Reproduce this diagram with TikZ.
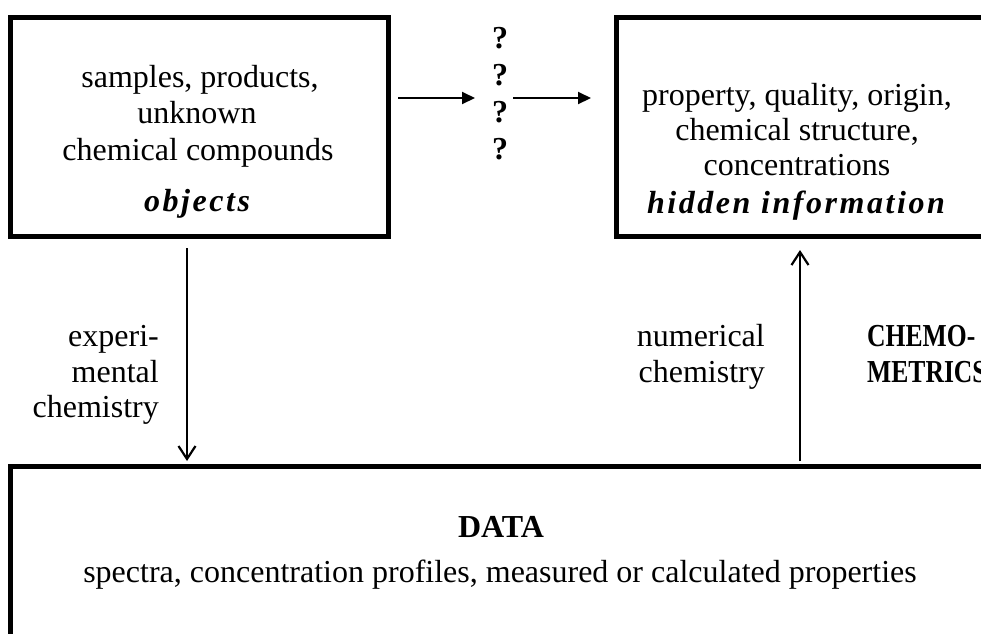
\documentclass[tikz,border=0pt]{standalone}
\usepackage{graphicx}
\usepackage{fontspec}
\setmainfont{Liberation Serif}
\newfontfamily\spacedserif[LetterSpace=8]{Liberation Serif}
\usetikzlibrary{arrows.meta}
\newcommand{\condensed}[1]{\scalebox{0.8}[1]{#1}}
\begin{document}
\begin{tikzpicture}[x=1pt,y=-1pt,
  box/.style={draw,line width=5pt,rectangle,inner sep=0pt},
  txt/.style={font=\fontsize{32}{36}\selectfont,inner sep=0pt,anchor=base},
  txtr/.style={txt,anchor=base east},
  txtl/.style={txt,anchor=base west},
  hd/.style={txt,font=\fontsize{32}{36}\selectfont\bfseries},
  emph/.style={txt,font=\fontsize{32}{36}\selectfont\spacedserif\bfseries\itshape},
  harrow/.style={line width=2pt,-{Triangle[length=13pt,width=12pt]}},
  varrow/.style={line width=2.2pt,-{Straight Barb[length=13pt,width=17pt,line width=2.2pt]}}]
\useasboundingbox (0,0) rectangle (981,633);
\clip (0,0) rectangle (981,633);

% boxes
\node[box,minimum width=378pt,minimum height=219pt] (objbox) at (199,126.5) {};
\node[box,minimum width=394pt,minimum height=219pt] (infobox) at (813,126.5) {};
\node[box,minimum width=1000pt,minimum height=234pt] (databox) at (510,583) {};

% objects box text
\node[txt] (o1) at (200,87) {samples, products,};
\node[txt] (o2) at (197,123) {unknown};
\node[txt] (o3) at (198,160) {chemical compounds};
\node[emph] (o4) at (197,211) {objects};

% hidden information box text
\node[txt] (h1) at (797,105) {property, quality, origin,};
\node[txt] (h2) at (797,140) {chemical structure,};
\node[txt] (h3) at (797,175) {concentrations};
\node[emph] (h4) at (796,213) {hidden information};

% question marks
\node[hd] (q1) at (500,48) {?};
\node[hd] (q2) at (500,85) {?};
\node[hd] (q3) at (500,122) {?};
\node[hd] (q4) at (500,159) {?};

% data box text
\node[hd] (d1) at (501,537) {DATA};
\node[txt] (d2) at (500,582) {spectra, concentration profiles, measured or calculated properties};

% side labels
\node[txtr] (e1) at (159,346) {experi-};
\node[txtr] (e2) at (159,382) {mental};
\node[txtr] (e3) at (159,417) {chemistry};
\node[txtr] (n1) at (765,346) {numerical};
\node[txtr] (n2) at (765,382) {chemistry};
\node[txtl,font=\fontsize{32}{36}\selectfont\bfseries] (c1) at (867,346) {\condensed{CHEMO-}};
\node[txtl,font=\fontsize{32}{36}\selectfont\bfseries] (c2) at (867,382) {\condensed{METRICS}};

% connectors
\coordinate (qL) at (475,98);
\coordinate (qR) at (513,98);
\coordinate (dnx) at (187,0);
\coordinate (upx) at (800,0);
\draw[harrow,shorten <=7.5pt] (objbox.east |- qL) -- (qL);
\draw[harrow,shorten >=22.5pt] (qR) -- (infobox.west |- qR);
\draw[varrow,shorten <=9.5pt,shorten >=2.5pt] (objbox.south -| dnx) -- (databox.north -| dnx);
\draw[varrow,shorten <=2.5pt,shorten >=11.5pt] (databox.north -| upx) -- (infobox.south -| upx);
\end{tikzpicture}
\end{document}
